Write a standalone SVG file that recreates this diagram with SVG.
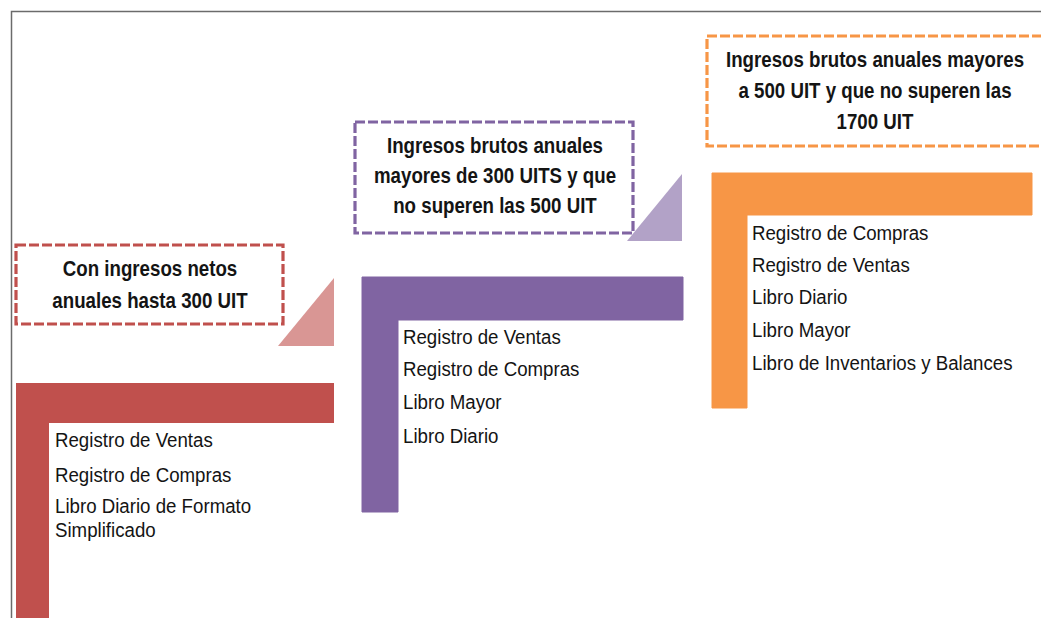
<svg xmlns="http://www.w3.org/2000/svg" width="1041" height="618" viewBox="0 0 1041 618">
<style>
.frame{fill:none;stroke:#6b6b6b;stroke-width:1.5}
.box{fill:#fff;stroke-width:3.2;stroke-dasharray:10 3}
.h{font-family:"Liberation Sans",Arial,sans-serif;font-weight:bold;font-size:22px;fill:#141414;text-anchor:middle}
.l{font-family:"Liberation Sans",Arial,sans-serif;font-size:21px;fill:#141414}
</style>
<rect width="1041" height="618" fill="#fff"/>
<path class="frame" d="M11.5,618 V11.5 H1041"/>
<g id="connectors"/>
<g id="tier1">
  <rect class="box" x="16" y="245" width="267" height="79" stroke="#C0504D"/>
  <text class="h" transform="matrix(0.85,0,0,1,150,276)">Con ingresos netos</text>
  <text class="h" transform="matrix(0.85,0,0,1,150,308)">anuales hasta 300 UIT</text>
  <polygon points="278,346 334,346 334,278" fill="#D99694"/>
  <polygon points="16,383 334,383 334,423 49,423 49,618 16,618" fill="#C0504D"/>
  <text class="l" transform="matrix(0.89,0,0,1,55,447)">Registro de Ventas</text>
  <text class="l" transform="matrix(0.89,0,0,1,55,482)">Registro de Compras</text>
  <text class="l" transform="matrix(0.89,0,0,1,55,513)">Libro Diario de Formato</text>
  <text class="l" transform="matrix(0.89,0,0,1,55,537)">Simplificado</text>
</g>
<g id="tier2">
  <rect class="box" x="355" y="122" width="278" height="111" stroke="#8064A2"/>
  <text class="h" transform="matrix(0.85,0,0,1,495,153)">Ingresos brutos anuales</text>
  <text class="h" transform="matrix(0.85,0,0,1,495,183)">mayores de 300 UITS y que</text>
  <text class="h" transform="matrix(0.85,0,0,1,495,213)">no superen las 500 UIT</text>
  <polygon points="627,241 682,241 682,174" fill="#B2A2C7"/>
  <polygon points="362,277 683,277 683,320 398,320 398,512 362,512" fill="#8064A2" stroke="#8064A2" stroke-width="1" stroke-linejoin="round"/>
  <text class="l" transform="matrix(0.89,0,0,1,403,344)">Registro de Ventas</text>
  <text class="l" transform="matrix(0.89,0,0,1,403,376)">Registro de Compras</text>
  <text class="l" transform="matrix(0.89,0,0,1,403,409)">Libro Mayor</text>
  <text class="l" transform="matrix(0.89,0,0,1,403,443)">Libro Diario</text>
</g>
<g id="tier3">
  <rect class="box" x="707" y="36" width="345" height="110" stroke="#F79646"/>
  <text class="h" transform="matrix(0.85,0,0,1,875,67)">Ingresos brutos anuales mayores</text>
  <text class="h" transform="matrix(0.85,0,0,1,875,98)">a 500 UIT y que no superen las</text>
  <text class="h" transform="matrix(0.85,0,0,1,875,129)">1700 UIT</text>
  <polygon points="712,173 1032,173 1032,215 747,215 747,408 712,408" fill="#F79646" stroke="#F79646" stroke-width="1" stroke-linejoin="round"/>
  <text class="l" transform="matrix(0.89,0,0,1,752,240)">Registro de Compras</text>
  <text class="l" transform="matrix(0.89,0,0,1,752,272)">Registro de Ventas</text>
  <text class="l" transform="matrix(0.89,0,0,1,752,304)">Libro Diario</text>
  <text class="l" transform="matrix(0.89,0,0,1,752,337)">Libro Mayor</text>
  <text class="l" transform="matrix(0.89,0,0,1,752,370)">Libro de Inventarios y Balances</text>
</g>
</svg>
